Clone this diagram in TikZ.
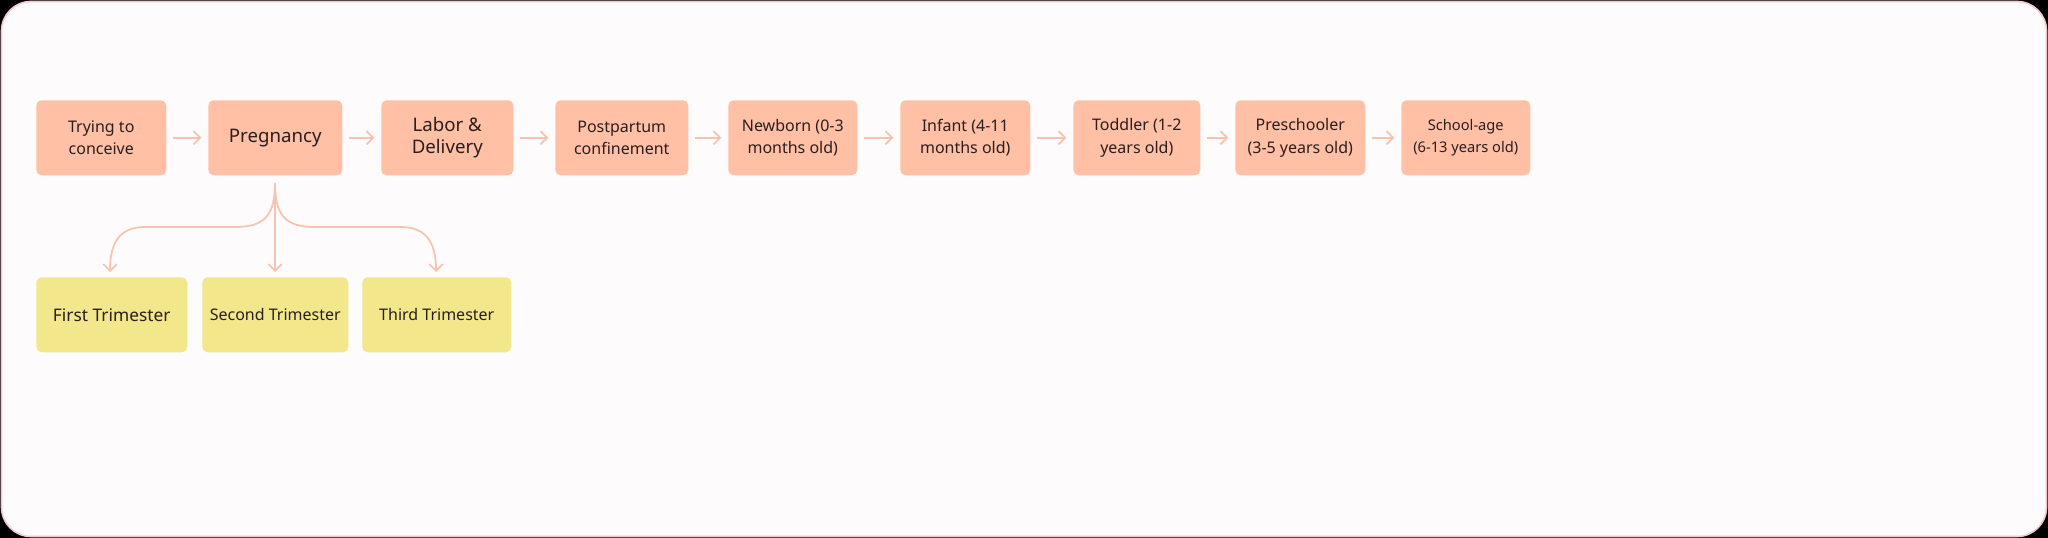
\documentclass[tikz,border=0pt]{standalone}
\usepackage{fontspec}
\setmainfont{Noto Sans}
\usetikzlibrary{arrows.meta}
\definecolor{salmon}{HTML}{FFC0A5}
\definecolor{yel}{HTML}{F3E78B}
\definecolor{arr}{HTML}{F6C3AF}
\definecolor{txt}{HTML}{2A1E1E}
\definecolor{bg}{HTML}{FDFBFB}
\definecolor{frame}{HTML}{F4C6CE}
\tikzset{
 stage/.style={fill=salmon,rounded corners=4pt,align=center,text=txt,font=\fontsize{12}{17}\selectfont,anchor=north west,inner sep=0pt},
 tri/.style={stage,fill=yel},
 flow/.style={draw=arr,line width=1.3pt,-{Straight Barb[length=5pt,width=10pt]}},
}
\newcommand{\bx}[7]{\node[#1,minimum width=#4*0.75pt-#3*0.75pt,minimum height=#6*0.75pt-#5*0.75pt] (#2) at (#3,#5) {#7};}
\begin{document}
\begin{tikzpicture}[x=0.75pt,y=-0.75pt]
\fill[black] (0,0) rectangle (2048,538);
\useasboundingbox (0,0) rectangle (2048,538);
\draw[frame,fill=bg,line width=1.2pt,rounded corners=22pt] (1.5,1.5) rectangle (2046.5,536.5);
\bx{stage}{a}{36}{166}{100}{175}{Trying to\\conceive}
\bx{stage}{b}{208}{342}{100}{175}{\fontsize{14}{18}\selectfont Pregnancy}
\bx{stage}{c}{381}{513}{100}{175}{\fontsize{14}{20}\selectfont Labor \&\\\fontsize{14}{20}\selectfont Delivery}
\bx{stage}{d}{555}{688}{100}{175}{Postpartum\\confinement}
\bx{stage}{e}{728}{857}{100}{175}{Newborn (0-3\\months old)}
\bx{stage}{f}{900}{1030}{100}{175}{Infant (4-11\\months old)}
\bx{stage}{g}{1073}{1200}{100}{175}{Toddler (1-2\\years old)}
\bx{stage}{h}{1235}{1365}{100}{175}{Preschooler\\(3-5 years old)}
\bx{stage}{i}{1401}{1530}{100}{175}{\fontsize{11}{15}\selectfont School-age\\\fontsize{11}{15}\selectfont (6-13 years old)}
\bx{tri}{t1}{36}{187}{277}{352}{\fontsize{13}{17}\selectfont First Trimester}
\bx{tri}{t2}{202}{348}{277}{352}{Second Trimester}
\bx{tri}{t3}{362}{511}{277}{352}{Third Trimester}
\foreach \p/\q in {a/b,b/c,c/d,d/e,e/f,f/g,g/h,h/i}
  \draw[flow] ([xshift=5pt]\p.east) -- ([xshift=-5pt]\q.west);
\coordinate (s) at (275,183);
\draw[flow] (s) .. controls (275,215) and (265,227) .. (235,227) -- (145,227) .. controls (118,227) and (110,245) .. (110,272);
\draw[flow] (s) -- (275,272);
\draw[flow] (s) .. controls (275,215) and (285,227) .. (315,227) -- (401,227) .. controls (428,227) and (436,245) .. (436,272);
\end{tikzpicture}
\end{document}
